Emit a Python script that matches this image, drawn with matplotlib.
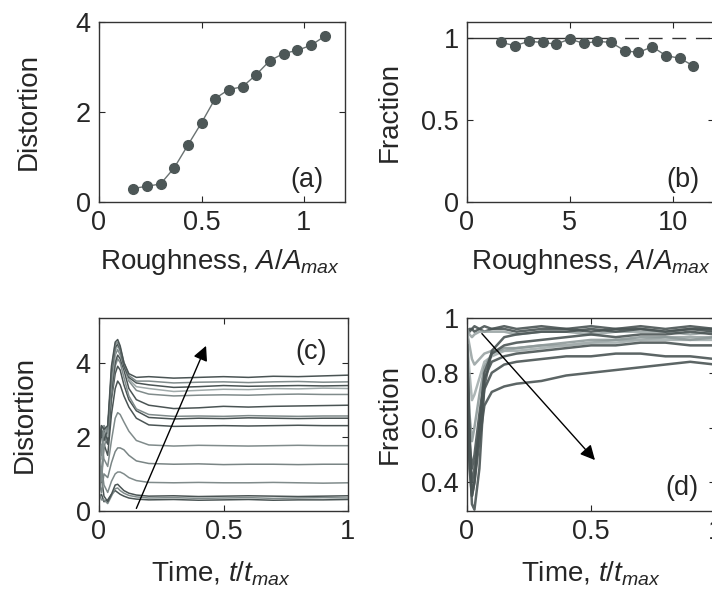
import numpy as np
import matplotlib
matplotlib.use("Agg")
import matplotlib.pyplot as plt

plt.rcParams['font.family'] = ['Liberation Sans', 'DejaVu Sans']
plt.rcParams['mathtext.fontset'] = 'custom'
plt.rcParams['mathtext.rm'] = 'Liberation Sans'
plt.rcParams['mathtext.it'] = 'Liberation Sans:italic'

# ---- panel (a): distortion vs roughness ----
rough_a = [0.167, 0.233, 0.300, 0.367, 0.433, 0.500, 0.567, 0.633, 0.700,
           0.767, 0.833, 0.900, 0.967, 1.033, 1.100]
distortion_a = [0.30, 0.35, 0.40, 0.76, 1.26, 1.76, 2.30, 2.50, 2.56,
                2.83, 3.14, 3.30, 3.37, 3.48, 3.68]

# ---- panel (b): fraction vs roughness ----
rough_b = [1.67, 2.33, 3.00, 3.67, 4.33, 5.00, 5.67, 6.33, 7.00,
           7.67, 8.33, 9.00, 9.67, 10.33, 11.00]
fraction_b = [0.975, 0.955, 0.982, 0.975, 0.965, 0.996, 0.969, 0.982, 0.975,
              0.924, 0.914, 0.949, 0.894, 0.879, 0.832]
ref_level = 1.0
ref_solid_end = 6.5
ref_dash_end = 12.0

# ---- panel (c): distortion vs time, one curve per roughness ----
t_c = [0, 0.01, 0.02, 0.035, 0.05, 0.065, 0.075, 0.085, 0.1, 0.12, 0.15, 0.2,
       0.3, 0.4, 0.5, 0.6, 0.7, 0.8, 0.9, 1.0]
curves_c = [
    [0.35, 0.45, 0.25, 0.30, 0.45, 0.55, 0.50, 0.45, 0.40, 0.35, 0.32, 0.30, 0.31, 0.29, 0.30, 0.31, 0.29, 0.30, 0.30, 0.31],
    [0.50, 0.30, 0.30, 0.20, 0.40, 0.60, 0.62, 0.55, 0.48, 0.42, 0.38, 0.35, 0.36, 0.34, 0.35, 0.36, 0.34, 0.35, 0.36, 0.35],
    [0.60, 0.90, 0.40, 0.25, 0.45, 0.70, 0.72, 0.65, 0.55, 0.48, 0.43, 0.40, 0.41, 0.39, 0.40, 0.41, 0.40, 0.39, 0.40, 0.41],
    [0.40, 1.20, 0.70, 0.50, 0.80, 1.00, 1.05, 1.05, 1.00, 0.90, 0.82, 0.77, 0.76, 0.77, 0.76, 0.76, 0.77, 0.76, 0.75, 0.76],
    [0.80, 0.50, 1.00, 0.90, 1.30, 1.60, 1.70, 1.70, 1.65, 1.50, 1.35, 1.28, 1.26, 1.27, 1.25, 1.26, 1.26, 1.25, 1.26, 1.26],
    [1.00, 1.80, 1.40, 1.20, 1.90, 2.50, 2.65, 2.60, 2.40, 2.15, 1.90, 1.78, 1.75, 1.77, 1.76, 1.75, 1.76, 1.77, 1.76, 1.76],
    [1.20, 0.90, 1.80, 1.50, 2.60, 3.30, 3.50, 3.40, 3.10, 2.80, 2.50, 2.32, 2.28, 2.29, 2.30, 2.29, 2.30, 2.31, 2.30, 2.30],
    [1.50, 2.20, 2.00, 1.80, 3.00, 3.70, 3.90, 3.80, 3.40, 3.00, 2.70, 2.52, 2.48, 2.50, 2.49, 2.51, 2.50, 2.49, 2.50, 2.50],
    [1.30, 0.80, 1.70, 2.10, 3.10, 3.90, 4.10, 4.00, 3.60, 3.10, 2.75, 2.60, 2.55, 2.56, 2.55, 2.57, 2.56, 2.55, 2.56, 2.56],
    [1.60, 2.30, 2.20, 1.90, 3.20, 4.00, 4.20, 4.10, 3.80, 3.30, 3.00, 2.85, 2.76, 2.78, 2.82, 2.80, 2.82, 2.83, 2.84, 2.85],
    [1.40, 1.00, 2.00, 2.30, 3.40, 4.20, 4.35, 4.20, 3.90, 3.50, 3.25, 3.15, 3.10, 3.12, 3.13, 3.12, 3.14, 3.15, 3.14, 3.14],
    [1.80, 1.40, 2.30, 2.00, 3.60, 4.30, 4.45, 4.30, 3.90, 3.55, 3.35, 3.30, 3.22, 3.25, 3.28, 3.27, 3.30, 3.29, 3.31, 3.30],
    [1.50, 2.10, 1.90, 2.20, 3.70, 4.40, 4.50, 4.35, 3.90, 3.60, 3.45, 3.40, 3.33, 3.35, 3.38, 3.36, 3.37, 3.38, 3.37, 3.38],
    [2.00, 1.50, 2.30, 2.10, 3.80, 4.50, 4.55, 4.40, 4.00, 3.65, 3.50, 3.50, 3.45, 3.47, 3.48, 3.46, 3.48, 3.49, 3.47, 3.48],
    [1.70, 2.30, 2.20, 2.30, 3.90, 4.55, 4.62, 4.45, 4.00, 3.70, 3.60, 3.62, 3.58, 3.60, 3.62, 3.60, 3.63, 3.62, 3.64, 3.66],
]
shade_c = ['#4a5454', '#808b8b', '#4a5454', '#808b8b', '#7a8585', '#808b8b',
           '#4a5454', '#4a5454', '#808b8b', '#4a5454', '#808b8b', '#a0aaaa',
           '#4a5454', '#808b8b', '#4a5454']

# ---- panel (d): fraction vs time ----
t_d = [0, 0.01, 0.02, 0.03, 0.05, 0.07, 0.1, 0.15, 0.2, 0.3, 0.4, 0.5,
       0.6, 0.7, 0.8, 0.9, 1.0]
curves_d = [
    [0.95, 0.96, 0.96, 0.97, 0.96, 0.97, 0.96, 0.97, 0.96, 0.97, 0.96, 0.97, 0.96, 0.97, 0.96, 0.97, 0.96],
    [0.94, 0.95, 0.96, 0.95, 0.96, 0.95, 0.96, 0.96, 0.95, 0.96, 0.96, 0.95, 0.96, 0.96, 0.95, 0.96, 0.96],
    [0.96, 0.94, 0.93, 0.94, 0.95, 0.95, 0.95, 0.95, 0.94, 0.95, 0.95, 0.94, 0.95, 0.95, 0.95, 0.94, 0.95],
    [0.95, 0.90, 0.85, 0.83, 0.85, 0.87, 0.88, 0.88, 0.89, 0.90, 0.90, 0.91, 0.92, 0.92, 0.93, 0.93, 0.93],
    [0.93, 0.80, 0.70, 0.72, 0.78, 0.84, 0.86, 0.88, 0.88, 0.89, 0.90, 0.91, 0.91, 0.92, 0.92, 0.92, 0.92],
    [0.90, 0.65, 0.55, 0.60, 0.72, 0.82, 0.87, 0.89, 0.89, 0.90, 0.91, 0.92, 0.92, 0.93, 0.93, 0.92, 0.93],
    [0.92, 0.60, 0.35, 0.40, 0.60, 0.80, 0.87, 0.90, 0.91, 0.92, 0.93, 0.94, 0.93, 0.94, 0.94, 0.95, 0.94],
    [0.90, 0.50, 0.32, 0.30, 0.45, 0.75, 0.88, 0.93, 0.94, 0.95, 0.95, 0.96, 0.95, 0.96, 0.95, 0.96, 0.95],
    [0.90, 0.55, 0.45, 0.50, 0.65, 0.78, 0.84, 0.86, 0.87, 0.88, 0.89, 0.90, 0.90, 0.91, 0.91, 0.90, 0.90],
    [0.85, 0.50, 0.40, 0.45, 0.60, 0.74, 0.80, 0.83, 0.84, 0.85, 0.86, 0.86, 0.87, 0.87, 0.86, 0.86, 0.85],
    [0.80, 0.45, 0.35, 0.40, 0.55, 0.68, 0.73, 0.75, 0.76, 0.77, 0.79, 0.80, 0.81, 0.82, 0.83, 0.84, 0.83],
]
shade_d = ['#4a5454', '#4a5454', '#9aa4a4', '#9aa4a4', '#a4aeae', '#8e9999',
           '#4a5454', '#4a5454', '#4a5454', '#4a5454', '#4a5454']

# arrows (data coordinates)
arrow_c = [(0.15, 0.07), (0.43, 4.45)]
arrow_d = [(0.06, 0.943), (0.516, 0.481)]

W, H = 712, 591
fig = plt.figure(figsize=(W / 100, H / 100), dpi=100)

def px_axes(left, right, top, bottom):
    return fig.add_axes([left / W, 1 - bottom / H, (right - left) / W, (bottom - top) / H])

ax_a = px_axes(99, 345, 22, 202)
ax_b = px_axes(467, 714, 22, 202)
ax_c = px_axes(99, 348, 318, 511)
ax_d = px_axes(467, 715, 318, 511)

ink = '#262626'
mk = '#4d5757'
lab_fs = 20
tick_fs = 19.5

for ax in (ax_a, ax_b, ax_c, ax_d):
    ax.tick_params(direction='in', top=True, right=True, length=4, width=0.8,
                   labelsize=tick_fs, colors=ink, pad=6)
    for sp in ax.spines.values():
        sp.set_color('#333333')
        sp.set_linewidth(1.0)

# (a)
ax_a.plot(rough_a, distortion_a, '-', color='#6a7272', lw=1.0, zorder=2)
ax_a.plot(rough_a, distortion_a, 'o', ms=7, color=mk, mec=mk, zorder=3)
ax_a.set_xlim(0, 1.2)
ax_a.set_ylim(0, 4)
ax_a.set_xticks([0, 0.5, 1])
ax_a.set_xticklabels(['0', '0.5', '1'])
ax_a.set_yticks([0, 2, 4])
ax_a.set_ylabel('Distortion', fontsize=lab_fs, color=ink)
ax_a.set_xlabel('Roughness, $A/A_{max}$', fontsize=lab_fs, color=ink)
ax_a.yaxis.set_label_coords(-0.232, 0.5)
ax_a.xaxis.set_label_coords(0.49, -0.25)
ax_a.text(0.845, 0.12, '(a)', transform=ax_a.transAxes, ha='center', va='center',
          fontsize=tick_fs, color=ink)

# (b)
ax_b.plot([0, ref_solid_end], [ref_level, ref_level], '-', color='#333333', lw=1.0, zorder=1)
ax_b.plot([ref_solid_end, ref_dash_end], [ref_level, ref_level], '-', color='#333333',
          lw=1.0, dashes=(10, 7), zorder=1)
ax_b.plot(rough_b, fraction_b, '-', color='#6a7272', lw=1.0, zorder=2)
ax_b.plot(rough_b, fraction_b, 'o', ms=7, color=mk, mec=mk, zorder=3)
ax_b.set_xlim(0, 12)
ax_b.set_ylim(0, 1.1)
ax_b.set_xticks([0, 5, 10])
ax_b.set_yticks([0, 0.5, 1])
ax_b.set_yticklabels(['0', '0.5', '1'])
ax_b.set_ylabel('Fraction', fontsize=lab_fs, color=ink)
ax_b.set_xlabel('Roughness, $A/A_{max}$', fontsize=lab_fs, color=ink)
ax_b.yaxis.set_label_coords(-0.26, 0.5)
ax_b.xaxis.set_label_coords(0.50, -0.25)
ax_b.text(0.875, 0.12, '(b)', transform=ax_b.transAxes, ha='center', va='center',
          fontsize=tick_fs, color=ink)

# (c)
for ys, col in zip(curves_c, shade_c):
    ax_c.plot(t_c, ys, '-', color=col, lw=1.1)
ax_c.annotate('', xy=arrow_c[1], xytext=arrow_c[0],
              arrowprops=dict(arrowstyle='-|>', color='black', lw=1.0,
                              mutation_scale=22, shrinkA=0, shrinkB=0))
ax_c.set_xlim(0, 1)
ax_c.set_ylim(0, 5.2)
ax_c.set_xticks([0, 0.5, 1])
ax_c.set_xticklabels(['0', '0.5', '1'])
ax_c.set_yticks([0, 2, 4])
ax_c.set_ylabel('Distortion', fontsize=lab_fs, color=ink)
ax_c.set_xlabel('Time, $t/t_{max}$', fontsize=lab_fs, color=ink)
ax_c.yaxis.set_label_coords(-0.245, 0.5)
ax_c.xaxis.set_label_coords(0.49, -0.25)
ax_c.text(0.85, 0.825, '(c)', transform=ax_c.transAxes, ha='center', va='center',
          fontsize=tick_fs, color=ink)

# (d)
for ys, col in zip(curves_d, shade_d):
    ax_d.plot(t_d, ys, '-', color=col, lw=1.8, alpha=0.9)
ax_d.annotate('', xy=arrow_d[1], xytext=arrow_d[0],
              arrowprops=dict(arrowstyle='-|>', color='black', lw=1.0,
                              mutation_scale=22, shrinkA=0, shrinkB=0))
ax_d.set_xlim(0, 1)
ax_d.set_ylim(0.295, 1.0)
ax_d.set_xticks([0, 0.5, 1])
ax_d.set_xticklabels(['0', '0.5', '1'])
ax_d.set_yticks([0.4, 0.6, 0.8, 1])
ax_d.set_yticklabels(['0.4', '0.6', '0.8', '1'])
ax_d.set_ylabel('Fraction', fontsize=lab_fs, color=ink)
ax_d.set_xlabel('Time, $t/t_{max}$', fontsize=lab_fs, color=ink)
ax_d.yaxis.set_label_coords(-0.258, 0.5)
ax_d.xaxis.set_label_coords(0.50, -0.25)
ax_d.text(0.867, 0.12, '(d)', transform=ax_d.transAxes, ha='center', va='center',
          fontsize=tick_fs, color=ink)

fig.savefig('out.png', dpi=100)
